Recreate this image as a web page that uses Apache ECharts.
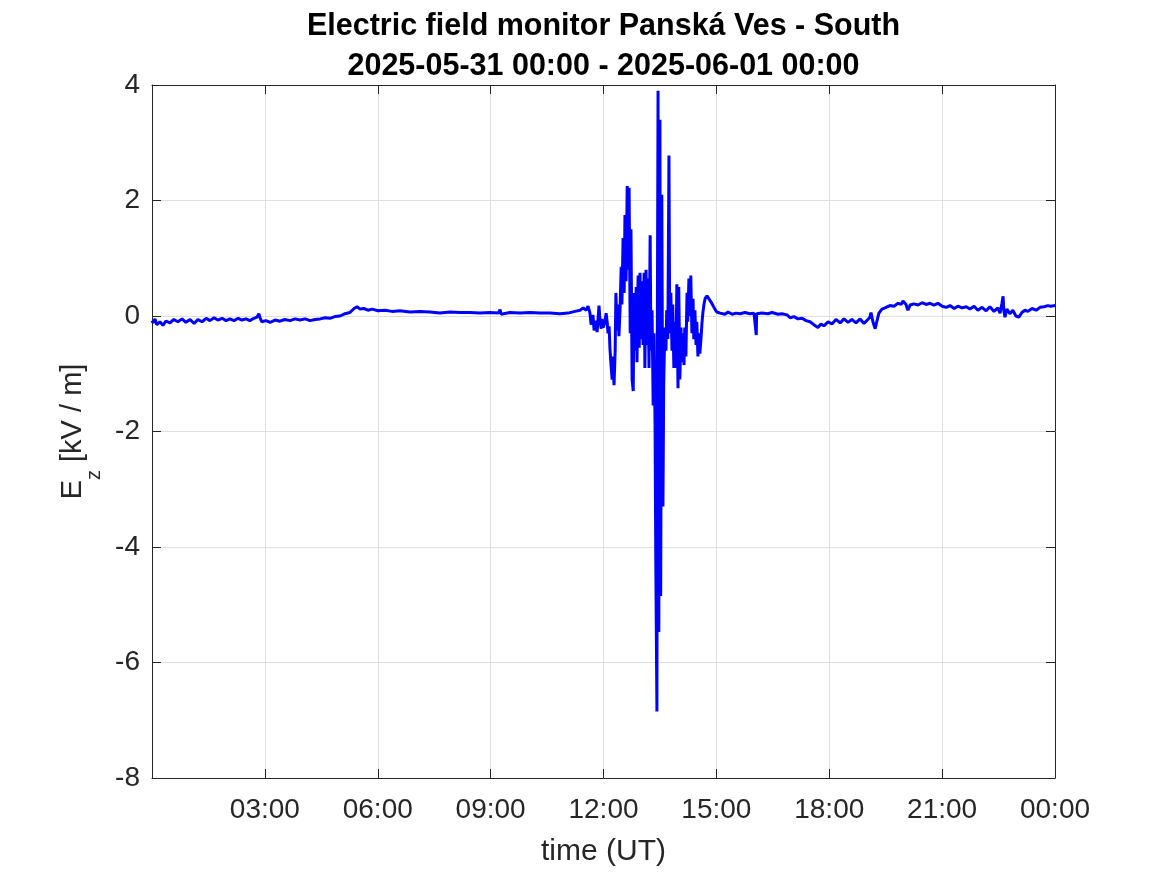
<!DOCTYPE html>
<html>
<head>
<meta charset="utf-8">
<script src="https://cdn.jsdelivr.net/npm/echarts@6/dist/echarts.min.js"></script>
<style>
html,body{margin:0;padding:0;background:#fff;}
#chart{width:1167px;height:875px;}
</style>
</head>
<body>
<div id="chart"></div>
<script>
// time in hours (UT) since 2025-05-31 00:00
var timeH = [
0.00,0.03,0.08,0.13,0.21,0.29,0.37,0.48,0.58,0.69,0.80,0.90,1.01,1.12,1.22,1.33,1.44,1.54,1.65,1.75,1.86,1.97,2.07,2.18,2.29,2.39,2.50,2.60,2.71,2.79,2.84,2.87,2.92,3.03,3.14,3.27,3.40,3.53,3.67,3.80,3.93,4.07,4.20,4.33,4.47,4.60,4.73,4.86,5.00,5.13,5.26,5.37,5.45,5.53,5.63,5.74,5.85,6.01,6.19,6.38,6.59,6.86,7.12,7.39,7.65,7.92,8.19,8.45,8.72,8.98,9.20,9.25,9.28,9.51,9.78,10.05,10.31,10.58,10.84,11.06,11.24,11.38,11.46,11.54,
11.59,11.64,11.67,11.72,11.75,11.80,11.83,11.88,11.91,11.94,11.96,11.99,12.04,12.07,12.10,12.12,12.15,12.17,12.20,12.23,12.25,12.28,12.31,12.33,12.36,12.39,12.41,12.44,12.47,12.49,12.52,12.55,12.57,12.60,12.63,12.65,12.68,12.71,12.73,12.76,12.79,12.81,12.84,12.87,12.89,12.92,12.95,12.97,13.00,13.03,13.05,13.08,13.10,13.13,13.16,13.18,13.21,13.24,13.26,13.29,13.32,13.34,13.37,13.39,13.42,13.43,13.45,13.47,13.50,13.52,13.55,13.58,13.60,13.63,13.66,13.68,13.71,13.74,13.76,13.79,13.82,13.84,13.87,13.90,13.92,13.95,13.98,14.00,14.03,14.06,14.08,14.11,14.14,14.16,14.19,14.22,14.24,14.27,14.30,14.32,14.35,14.38,14.40,14.43,14.46,14.48,14.51,14.54,14.56,14.59,14.62,14.64,14.67,14.70,14.75,14.80,14.85,14.91,14.96,15.01,
15.10,15.23,15.31,15.42,15.52,15.63,15.76,15.89,16.00,16.05,16.06,16.07,16.21,16.37,16.48,16.64,16.74,16.88,16.96,17.06,17.17,17.28,17.38,17.49,17.59,17.70,17.78,17.86,17.97,18.07,18.18,18.29,18.39,18.50,18.60,18.71,18.82,18.92,19.00,19.08,19.11,19.16,19.22,19.27,19.32,19.40,19.51,19.61,19.72,19.83,19.91,19.96,20.04,20.09,20.15,20.25,20.36,20.47,20.57,20.68,20.78,20.89,21.00,21.11,21.21,21.32,21.42,21.53,21.64,21.74,21.85,21.95,22.06,22.17,22.27,22.38,22.48,22.54,22.59,22.62,22.64,22.67,22.72,22.80,22.88,22.96,23.04,23.12,23.20,23.28,23.39,23.50,23.60,23.71,23.81,23.89,24.00
];
// E_z in kV/m
var ez = [
-0.08,-0.12,-0.05,-0.15,-0.10,-0.16,-0.09,-0.12,-0.06,-0.10,-0.05,-0.11,-0.06,-0.13,-0.06,-0.10,-0.04,-0.08,-0.03,-0.07,-0.04,-0.08,-0.05,-0.08,-0.04,-0.07,-0.05,-0.08,-0.04,-0.02,0.04,-0.03,-0.10,-0.08,-0.11,-0.07,-0.09,-0.06,-0.08,-0.05,-0.07,-0.05,-0.08,-0.06,-0.05,-0.03,-0.04,-0.01,0.00,0.04,0.06,0.13,0.16,0.12,0.13,0.10,0.12,0.09,0.10,0.08,0.09,0.07,0.08,0.07,0.05,0.07,0.06,0.06,0.05,0.06,0.05,0.11,0.03,0.06,0.05,0.06,0.05,0.05,0.04,0.05,0.08,0.10,0.14,0.10,
0.17,0.05,-0.15,0.02,-0.25,-0.08,-0.28,0.18,-0.10,-0.22,-0.05,-0.20,-0.10,0.05,-0.12,-0.30,-0.18,-0.55,-0.85,-1.10,-0.70,-1.20,-0.60,0.40,-0.25,0.20,-0.35,0.10,0.85,0.20,1.35,0.40,1.75,0.60,2.25,0.80,2.22,-0.30,1.50,-1.10,-1.30,0.40,-0.60,0.50,-0.80,0.70,-0.55,0.75,-0.40,0.60,-0.50,0.75,-0.90,0.80,-0.50,0.65,-0.90,1.40,-0.60,0.10,-1.55,-0.30,-1.86,-4.25,-6.85,-0.50,3.90,-5.47,3.40,-4.85,2.10,-3.30,-1.20,-0.20,-0.60,0.10,-0.40,2.78,-0.30,0.40,-0.60,0.20,-0.90,-0.10,-0.90,0.55,-1.25,0.50,-1.10,-0.20,-0.80,-0.30,-0.85,-0.20,-0.70,0.40,-0.10,0.65,0.00,0.70,-0.30,0.30,-0.40,0.10,-0.50,-0.10,-0.70,-0.30,-0.65,-0.40,-0.10,0.05,0.20,0.30,0.35,0.33,0.25,0.18,0.12,0.07,
0.05,0.03,0.07,0.03,0.05,0.04,0.06,0.04,0.05,0.04,-0.33,0.04,0.05,0.04,0.06,0.03,0.04,0.02,-0.03,-0.01,-0.05,-0.04,-0.08,-0.10,-0.15,-0.20,-0.14,-0.17,-0.10,-0.14,-0.06,-0.12,-0.05,-0.11,-0.06,-0.12,-0.05,-0.13,-0.08,-0.02,0.06,-0.10,-0.22,-0.08,0.05,0.12,0.15,0.18,0.17,0.22,0.20,0.26,0.20,0.10,0.19,0.21,0.19,0.23,0.20,0.22,0.19,0.22,0.17,0.15,0.18,0.13,0.17,0.14,0.16,0.12,0.17,0.10,0.15,0.09,0.16,0.08,0.14,0.05,0.22,0.34,0.10,-0.02,0.12,0.04,0.10,0.00,-0.02,0.06,0.10,0.08,0.13,0.10,0.15,0.16,0.18,0.17,0.18
];
var xTicks = [0, 3, 6, 9, 12, 15, 18, 21, 24];
var yTicks = [-8, -6, -4, -2, 0, 2, 4];
var titleLines = ['Electric field monitor Panská Ves - South', '2025-05-31 00:00 - 2025-06-01 00:00'];

var seriesData = timeH.map(function (t, i) { return [t, ez[i]]; });
var FONT = "'Liberation Sans', Arial, sans-serif";
var AX = '#262626';
var GRID = '#dfdfdf';
var GRID_L = 152, GRID_R = 112, W = 1167;
var plotCenterX = GRID_L + (W - GRID_L - GRID_R) / 2;

function hourLabel(v) {
  if (v === 0) return '';
  var h = Math.round(v) % 24;
  return (h < 10 ? '0' : '') + h + ':00';
}

var chart = echarts.init(document.getElementById('chart'), null, {renderer: 'canvas'});
chart.setOption({
  backgroundColor: '#ffffff',
  animation: false,
  graphic: titleLines.map(function (t, i) {
    return {
      type: 'text', x: plotCenterX, y: 27 + i * 40, silent: true,
      style: {text: t, textAlign: 'center', textVerticalAlign: 'middle',
        font: 'bold 30.5px ' + FONT, fill: '#000'}
    };
  }),
  grid: {left: GRID_L, right: GRID_R, top: 85, bottom: 97, containLabel: false},
  xAxis: [{
    type: 'value', min: xTicks[0], max: xTicks[xTicks.length - 1], interval: 3,
    position: 'bottom',
    name: 'time (UT)', nameLocation: 'middle', nameGap: 59,
    nameTextStyle: {fontFamily: FONT, fontSize: 30, color: AX},
    axisLine: {show: true, onZero: false, lineStyle: {color: AX, width: 1}},
    axisTick: {show: true, inside: true, length: 9, lineStyle: {color: AX}},
    axisLabel: {formatter: hourLabel, fontFamily: FONT, fontSize: 28, color: AX, margin: 18},
    splitLine: {show: true, lineStyle: {color: GRID, width: 1}}
  }, {
    type: 'value', min: xTicks[0], max: xTicks[xTicks.length - 1], interval: 3,
    position: 'top',
    axisLine: {show: true, onZero: false, lineStyle: {color: AX, width: 1}},
    axisTick: {show: true, inside: true, length: 9, lineStyle: {color: AX}},
    axisLabel: {show: false},
    splitLine: {show: false}
  }],
  yAxis: [{
    type: 'value', min: yTicks[0], max: yTicks[yTicks.length - 1], interval: 2,
    position: 'left',
    name: '{m|E}{s|z}{m| [kV / m]}', nameLocation: 'middle', nameGap: 39,
    nameTextStyle: {
      rich: {
        m: {fontFamily: FONT, fontSize: 29, color: AX, lineHeight: 46, verticalAlign: 'top'},
        s: {fontFamily: FONT, fontSize: 20, color: AX, lineHeight: 46, verticalAlign: 'bottom'}
      }
    },
    axisLine: {show: true, onZero: false, lineStyle: {color: AX, width: 1}},
    axisTick: {show: true, inside: true, length: 9, lineStyle: {color: AX}},
    axisLabel: {fontFamily: FONT, fontSize: 28, color: AX, margin: 12},
    splitLine: {show: true, lineStyle: {color: GRID, width: 1}}
  }, {
    type: 'value', min: yTicks[0], max: yTicks[yTicks.length - 1], interval: 2,
    position: 'right',
    axisLine: {show: true, onZero: false, lineStyle: {color: AX, width: 1}},
    axisTick: {show: true, inside: true, length: 9, lineStyle: {color: AX}},
    axisLabel: {show: false},
    splitLine: {show: false}
  }],
  series: [{
    type: 'line',
    data: seriesData,
    xAxisIndex: 0, yAxisIndex: 0,
    showSymbol: false,
    symbol: 'none',
    lineStyle: {color: '#0000ff', width: 3},
    emphasis: {disabled: true}
  }]
});
</script>
</body>
</html>
